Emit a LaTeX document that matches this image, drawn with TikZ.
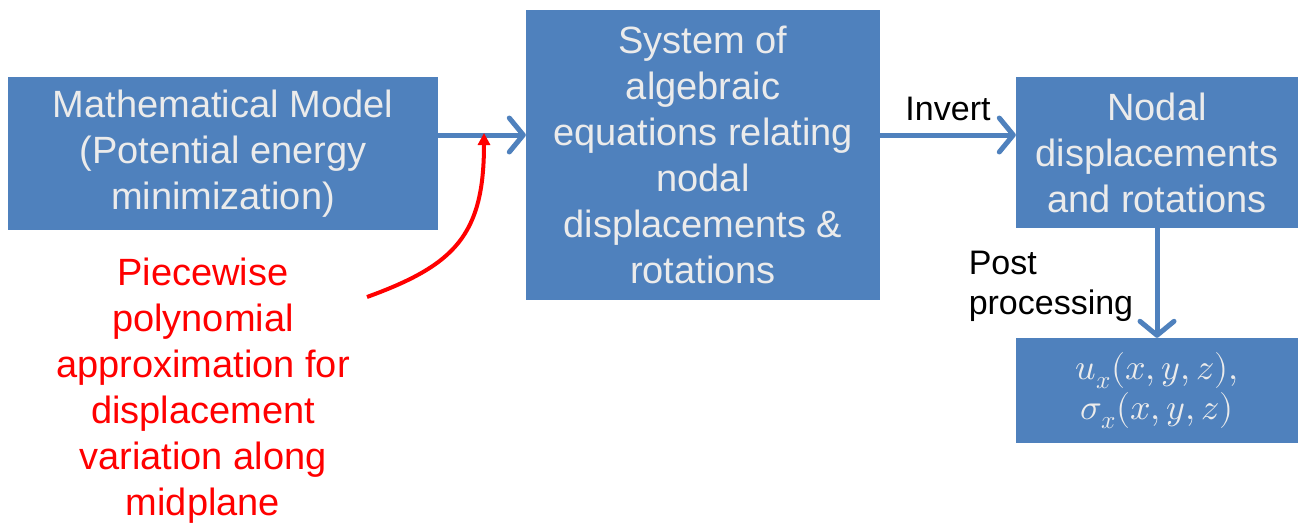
\documentclass[tikz,border=0pt]{standalone}
\usepackage{fontspec}
\usepackage{unicode-math}
\setmainfont{Liberation Sans}
\setmathfont{Latin Modern Math}
\usetikzlibrary{arrows.meta}

\definecolor{boxblue}{RGB}{79,129,189}
\definecolor{boxtext}{RGB}{235,235,235}

\begin{document}
\begin{tikzpicture}[x=1pt,y=-1pt,
	block/.style={fill=boxblue,text=boxtext,align=center,inner sep=0pt,
		font=\fontsize{38}{46}\selectfont},
	flow/.style={boxblue,line width=5pt,-{Straight Barb[length=14pt,width=34pt,round]}},
	label/.style={text=black,font=\fontsize{34}{40}\selectfont}]
	\useasboundingbox (0,0) rectangle (1298,525);

	\begin{scope} % Blocks
		\node[block,minimum width=430,minimum height=153] (model) at (223,153.5)
			{Mathematical Model\\(Potential energy\\minimization)};
		\node[block,minimum width=354,minimum height=290] (system) at (703,155)
			{System of\\algebraic\\equations relating\\nodal\\displacements \&\\rotations};
		\node[block,minimum width=282,minimum height=105,
			font=\fontsize{36}{40}\selectfont] (result) at (1157,390.5)
			{$u_x(x,y,z),$\\$\sigma_x(x,y,z)$};
		\node[block,minimum width=282,minimum height=151] (nodal) at (1157,152.5)
			{Nodal\\displacements\\and rotations};
	\end{scope}

\coordinate (arrowrow) at (0,135);

	\begin{scope} % Flow arrows
		\draw[flow] (model.east |- arrowrow) -- (system.west |- arrowrow);
		\draw[flow] (system.east |- arrowrow) -- node[label,above=8pt]{Invert} (nodal.west |- arrowrow);
		\draw[flow] (nodal.south) -- node[label,left=18pt,align=left,yshift=-3pt]{Post\\processing} (result.north);
	\end{scope}

	\begin{scope} % Approximation
		\node[red,align=center,font=\fontsize{38}{46}\selectfont] (approx) at (203,391)
			{Piecewise\\polynomial\\approximation for\\displacement\\variation along\\midplane};
		\coordinate (curvestart) at (367,297);
		\coordinate (curveend) at (484,133);
		\draw[red,line width=4pt,-{Triangle[length=12pt,width=12pt]}]
			(curvestart) .. controls (455,265) and (484,235) .. (curveend);
	\end{scope}
\end{tikzpicture}
\end{document}
